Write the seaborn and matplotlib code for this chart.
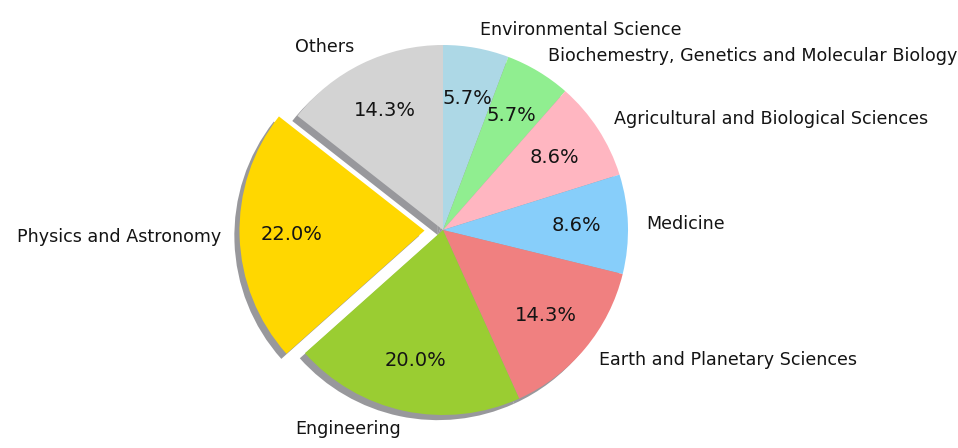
import matplotlib
matplotlib.use("Agg")
import matplotlib.pyplot as plt
import seaborn as sns

# Share of publications by subject area
subjects = [
    "Environmental Science",
    "Biochemestry, Genetics and Molecular Biology",
    "Agricultural and Biological Sciences",
    "Medicine",
    "Earth and Planetary Sciences",
    "Engineering",
    "Physics and Astronomy",
    "Others",
]
shares = [5.7, 5.7, 8.6, 8.6, 14.3, 20.0, 22.0, 14.3]
slice_colors = [
    "lightblue", "lightgreen", "lightpink", "lightskyblue",
    "lightcoral", "yellowgreen", "gold", "lightgrey",
]
explode = [0, 0, 0, 0, 0, 0, 0.1, 0]

sns.set_theme(style="white")
plt.rcParams["font.family"] = ["DejaVu Sans"]

fig = plt.figure(figsize=(9.58, 4.48), dpi=100)
ax = fig.add_axes([0, 0, 1, 1])

total = sum(shares)


def share_label(pct):
    # print the stated share of the slice rather than its renormalised angle
    return f"{pct * total / 100:.1f}%"


wedges, texts, autotexts = ax.pie(
    shares,
    labels=subjects,
    colors=slice_colors,
    explode=explode,
    startangle=90,
    counterclock=False,
    autopct=share_label,
    pctdistance=0.72,
    labeldistance=1.1,
    wedgeprops={"linewidth": 0, "edgecolor": "none"},
    shadow={"ox": -0.02, "oy": -0.02, "facecolor": "#98989c",
            "edgecolor": "#98989c", "alpha": 1.0},
    textprops={"fontsize": 12.6, "color": "#141414"},
)
for t in autotexts:
    t.set_fontsize(14)

ax.set_aspect("auto")
ax.set_xlim(-443 / 185, 515 / 185)
ax.set_ylim(-218 / 185, 230 / 185)
ax.axis("off")

fig.savefig("out.png", dpi=100)
